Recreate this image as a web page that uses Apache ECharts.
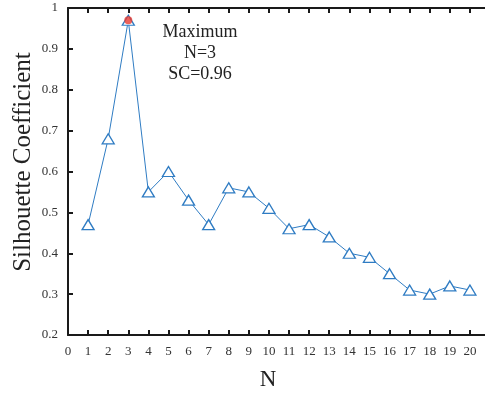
<!DOCTYPE html>
<html>
<head>
<meta charset="utf-8">
<script src="https://cdn.jsdelivr.net/npm/echarts@6/dist/echarts.min.js"></script>
<style>
  html, body { margin: 0; padding: 0; background: #fff; }
  #chart { width: 485px; height: 394px; }
</style>
</head>
<body>
<div id="chart"></div>
<script>
// cluster count N and silhouette coefficient
const nValues = [1, 2, 3, 4, 5, 6, 7, 8, 9, 10, 11, 12, 13, 14, 15, 16, 17, 18, 19, 20]
const scValues = [0.47, 0.68, 0.97, 0.55, 0.60, 0.53, 0.47, 0.56, 0.55, 0.51, 0.46, 0.47, 0.44, 0.40, 0.39, 0.35, 0.31, 0.30, 0.32, 0.31]
const bestN = 3
const notes = ['Maximum', 'N=3', 'SC=0.96']

const serif = '"Liberation Serif", "Times New Roman", serif'
const lineBlue = '#2f7cc3'
const axisColor = '#1a1a1a'

const chart = echarts.init(document.getElementById('chart'))

const points = nValues.map((n, i) => [n, scValues[i]])
const bestIdx = nValues.indexOf(bestN)

const nameStyle = { fontFamily: serif, fill: '#222', align: 'center', verticalAlign: 'middle' }

chart.setOption({
  animation: false,
  grid: { left: 68, right: -5, top: 8, bottom: 59, outerBoundsMode: 'none' },
  xAxis: [
    {
      type: 'value',
      min: 0,
      max: 21,
      interval: 1,
      axisLine: { lineStyle: { color: axisColor, width: 2 } },
      axisTick: { inside: true, length: 5, lineStyle: { color: axisColor, width: 2 } },
      axisLabel: { fontFamily: serif, fontSize: 13, color: '#333', margin: 10, showMaxLabel: false },
      splitLine: { show: false }
    },
    {
      type: 'value',
      position: 'top',
      min: 0,
      max: 21,
      interval: 1,
      axisLine: { show: true, lineStyle: { color: axisColor, width: 2 } },
      axisTick: { show: true, inside: true, length: 5, lineStyle: { color: axisColor, width: 2 } },
      axisLabel: { show: false },
      splitLine: { show: false }
    }
  ],
  yAxis: {
    type: 'value',
    min: 0.2,
    max: 1,
    interval: 0.1,
    axisLine: { show: true, lineStyle: { color: axisColor, width: 2 } },
    axisTick: { show: true, inside: true, length: 5, lineStyle: { color: axisColor, width: 2 } },
    axisLabel: {
      fontFamily: serif, fontSize: 13, color: '#333', margin: 10,
      formatter: (v) => String(Math.round(v * 10) / 10)
    },
    splitLine: { show: false }
  },
  series: [
    {
      type: 'line',
      data: points,
      symbol: 'triangle',
      symbolSize: [12, 10],
      lineStyle: { color: lineBlue, width: 1 },
      itemStyle: { color: '#fff', borderColor: lineBlue, borderWidth: 1.3 }
    },
    {
      type: 'scatter',
      data: [points[bestIdx]],
      symbol: 'circle',
      symbolSize: 8,
      itemStyle: { color: '#e8392f' },
      z: 5
    }
  ],
  graphic: [
    {
      type: 'text',
      x: 23,
      y: 162,
      rotation: Math.PI / 2,
      style: Object.assign({ text: 'Silhouette Coefficient', fontSize: 25 }, nameStyle)
    },
    {
      type: 'text',
      x: 268,
      y: 380,
      style: Object.assign({ text: 'N', fontSize: 23 }, nameStyle)
    }
  ].concat(notes.map((t, i) => ({
    type: 'text',
    x: 200,
    y: 32 + i * 21,
    style: Object.assign({ text: t, fontSize: 18 }, nameStyle)
  })))
})
</script>
</body>
</html>
